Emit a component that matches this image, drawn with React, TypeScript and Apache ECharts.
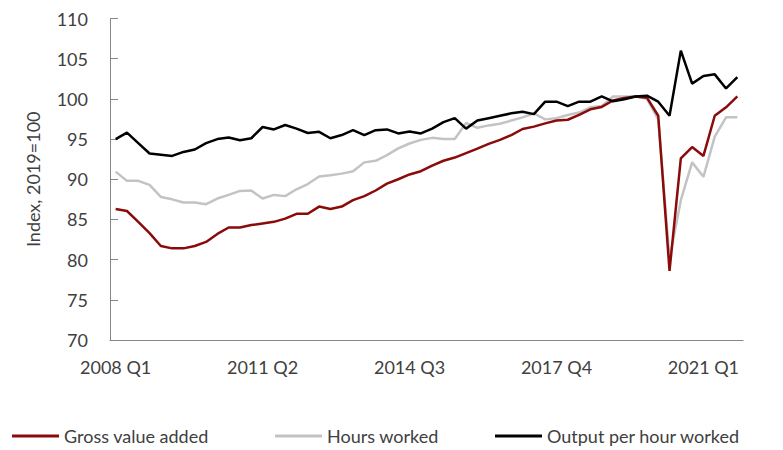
import React, { useEffect, useRef } from "react";
import * as echarts from "echarts";

const startYear = 2008;
const quarterCount = 56; // 2008 Q1 .. 2021 Q4
const categories: string[] = [];
for (let i = 0; i < quarterCount; i++) {
  categories.push(`${startYear + Math.floor(i / 4)} Q${(i % 4) + 1}`);
}

const grossValueAdded = [
  86.3, 86.05, 84.7, 83.3, 81.7, 81.4, 81.4, 81.7, 82.2, 83.2,
  84.0, 84.0, 84.3, 84.5, 84.7, 85.1, 85.7, 85.7, 86.6, 86.3,
  86.6, 87.4, 87.9, 88.6, 89.45, 90.0, 90.6, 91.0, 91.7, 92.3,
  92.7, 93.25, 93.8, 94.4, 94.9, 95.5, 96.25, 96.55, 96.95, 97.3,
  97.4, 98.0, 98.7, 99.0, 99.8, 100.1, 100.3, 100.15, 97.9, 78.6,
  92.6, 94.0, 92.9, 97.9, 98.95, 100.3,
];

const hoursWorked = [
  90.95, 89.8, 89.8, 89.3, 87.8, 87.5, 87.1, 87.1, 86.9, 87.6,
  88.05, 88.55, 88.6, 87.6, 88.05, 87.9, 88.75, 89.4, 90.35, 90.5,
  90.7, 91.0, 92.1, 92.3, 93.0, 93.85, 94.45, 94.9, 95.15, 95.0,
  95.0, 97.0, 96.4, 96.7, 96.9, 97.3, 97.7, 98.2, 97.45, 97.6,
  98.0, 98.3, 98.95, 99.1, 100.3, 100.3, 100.3, 100.0, 97.45, 80.1,
  87.4, 92.1, 90.3, 95.3, 97.7, 97.7,
];

const outputPerHour = [
  95.0, 95.8, 94.5, 93.2, 93.05, 92.9, 93.4, 93.7, 94.5, 95.0,
  95.2, 94.85, 95.1, 96.5, 96.2, 96.75, 96.3, 95.75, 95.9, 95.1,
  95.5, 96.1, 95.5, 96.1, 96.2, 95.7, 95.95, 95.7, 96.3, 97.1,
  97.6, 96.3, 97.3, 97.6, 97.9, 98.2, 98.4, 98.1, 99.65, 99.65,
  99.1, 99.65, 99.65, 100.3, 99.7, 99.95, 100.3, 100.4, 99.65, 97.9,
  106.0, 101.9, 102.85, 103.05, 101.3, 102.7,
];

const seriesNames = ["Gross value added", "Hours worked", "Output per hour worked"];
const seriesColors = ["#8B0A0A", "#C3C3C3", "#000000"];

const FONT = "Lato";
const FS = 18;
const TEXT = "#404040";
const AXIS = "#868686";
const legendLefts = [7, 270, 490];

export default function App() {
  const ref = useRef<HTMLDivElement>(null);
  useEffect(() => {
    if (!ref.current) return;
    const chart = echarts.init(ref.current, undefined, { renderer: "svg" });
    const data = [grossValueAdded, hoursWorked, outputPerHour];
    const zs = [3, 2, 4];
    chart.setOption({
      animation: false,
      backgroundColor: "#ffffff",
      grid: { left: 110, right: 40, top: 18.5, bottom: 110, containLabel: false },
      legend: seriesNames.map((name, k) => ({
        bottom: 0,
        left: legendLefts[k],
        itemWidth: 47,
        itemHeight: 3,
        icon: "rect",
        textStyle: { fontFamily: FONT, fontSize: FS, color: TEXT },
        data: [name],
      })),
      xAxis: {
        type: "category",
        data: categories,
        boundaryGap: true,
        axisLine: { lineStyle: { color: AXIS, width: 1 } },
        axisTick: { interval: 12, length: 7, lineStyle: { color: AXIS } },
        axisLabel: {
          interval: 12,
          margin: 18,
          fontFamily: FONT,
          fontSize: FS,
          color: TEXT,
        },
        splitLine: { show: false },
      },
      yAxis: {
        type: "value",
        min: 70,
        max: 110,
        interval: 5,
        name: "Index, 2019=100",
        nameLocation: "middle",
        nameGap: 68,
        nameTextStyle: { fontFamily: FONT, fontSize: FS, color: TEXT },
        axisLine: { show: true, lineStyle: { color: AXIS, width: 1 } },
        axisTick: { show: true, inside: true, length: 8, lineStyle: { color: AXIS } },
        axisLabel: { margin: 22, fontFamily: FONT, fontSize: FS, color: TEXT },
        splitLine: { show: false },
      },
      series: seriesNames.map((name, k) => ({
        name,
        type: "line",
        data: data[k],
        z: zs[k],
        symbol: "none",
        smooth: false,
        lineStyle: { color: seriesColors[k], width: 2.5 },
        itemStyle: { color: seriesColors[k] },
      })),
    });
    return () => chart.dispose();
  }, []);
  return <div ref={ref} style={{ width: 783, height: 450, position: "absolute", left: 0, top: 0 }} />;
}
